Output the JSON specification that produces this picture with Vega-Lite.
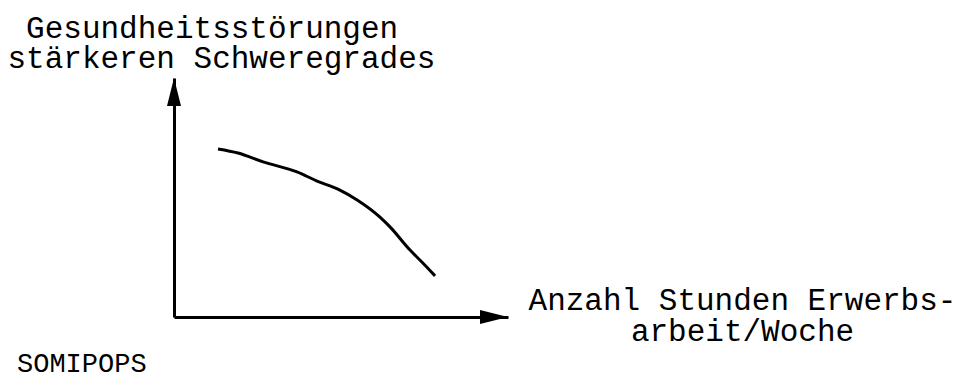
{
  "$schema": "https://vega.github.io/schema/vega-lite/v6.json",
  "width": 334,
  "height": 239,
  "autosize": {"type": "none"},
  "padding": {"left": 174, "top": 78, "right": 458, "bottom": 61},
  "background": "white",
  "config": {"view": {"stroke": null}, "font": "Liberation Mono"},
  "title": {
    "text": "SOMIPOPS",
    "orient": "bottom",
    "anchor": "start",
    "frame": "group",
    "font": "Liberation Mono",
    "fontSize": 27,
    "fontWeight": "normal",
    "color": "black",
    "baseline": "alphabetic",
    "dx": -157,
    "dy": 26,
    "offset": 0
  },
  "datasets": {
    "curve": [
      {"hours": 7.9, "severity": 7.03},
      {"hours": 11.5, "severity": 6.86},
      {"hours": 16.0, "severity": 6.49},
      {"hours": 22.1, "severity": 6.07},
      {"hours": 25.7, "severity": 5.69},
      {"hours": 29.8, "severity": 5.31},
      {"hours": 32.9, "severity": 4.9},
      {"hours": 37.0, "severity": 4.18},
      {"hours": 38.8, "severity": 3.77},
      {"hours": 42.4, "severity": 2.8},
      {"hours": 44.7, "severity": 2.26},
      {"hours": 46.9, "severity": 1.72}
    ],
    "arrows": [
      {"hours": 60, "severity": 0, "dir": "right"},
      {"hours": 0, "severity": 10, "dir": "up"}
    ]
  },
  "encoding": {
    "x": {
      "field": "hours",
      "type": "quantitative",
      "scale": {"domain": [0, 60], "nice": false, "zero": false},
      "axis": {
        "title": ["Anzahl Stunden Erwerbs-", "arbeit/Woche"],
        "domain": true,
        "domainColor": "black",
        "domainWidth": 3,
        "ticks": false,
        "labels": false,
        "grid": false,
        "titleFont": "Liberation Mono",
        "titleFontSize": 31,
        "titleFontWeight": "normal",
        "titleColor": "black",
        "titleAlign": "center",
        "titleBaseline": "alphabetic",
        "titleX": 568,
        "titleY": -8,
        "titleLineHeight": 31
      }
    },
    "y": {
      "field": "severity",
      "type": "quantitative",
      "scale": {"domain": [0, 10], "nice": false, "zero": false},
      "axis": {
        "title": ["\u200b\u00a0Gesundheitsstörungen", "stärkeren Schweregrades"],
        "domain": true,
        "domainColor": "black",
        "domainWidth": 3,
        "ticks": false,
        "labels": false,
        "grid": false,
        "titleFont": "Liberation Mono",
        "titleFontSize": 31,
        "titleFontWeight": "normal",
        "titleColor": "black",
        "titleAngle": 0,
        "titleAlign": "left",
        "titleBaseline": "alphabetic",
        "titleX": -167,
        "titleY": -41,
        "titleLineHeight": 30
      }
    }
  },
  "layer": [
    {
      "data": {"name": "curve"},
      "mark": {"type": "line", "interpolate": "monotone", "color": "black", "strokeWidth": 3}
    },
    {
      "data": {"name": "arrows"},
      "transform": [{"filter": "datum.dir == 'right'"}],
      "mark": {"type": "point", "shape": "M0,0L-2,-0.5L-2,0.5Z", "filled": true, "color": "black", "opacity": 1, "size": 784, "clip": false}
    },
    {
      "data": {"name": "arrows"},
      "transform": [{"filter": "datum.dir == 'up'"}],
      "mark": {"type": "point", "shape": "M0,0L-0.5,2L0.5,2Z", "filled": true, "color": "black", "opacity": 1, "size": 784, "clip": false}
    }
  ]
}
